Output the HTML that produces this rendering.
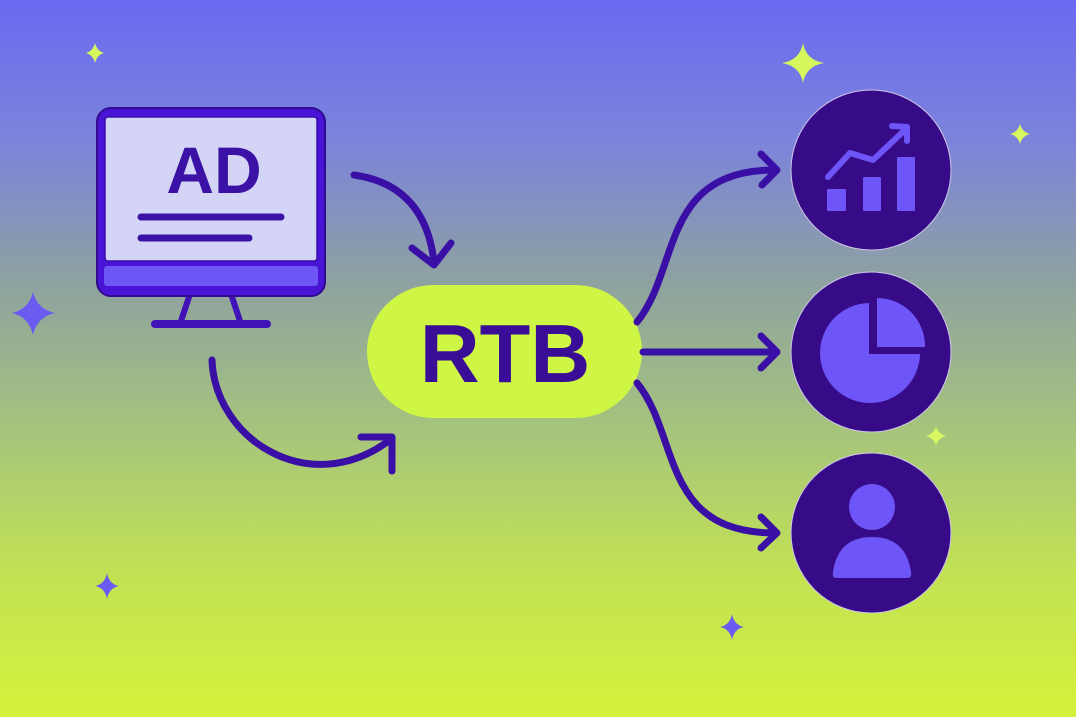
<!DOCTYPE html>
<html><head><meta charset="utf-8"><style>
html,body{margin:0;padding:0;width:1076px;height:717px;overflow:hidden}
svg{display:block}
</style></head><body>
<svg width="1076" height="717" viewBox="0 0 1076 717" xmlns="http://www.w3.org/2000/svg">
<defs>
<linearGradient id="bg" x1="0" y1="0" x2="0" y2="1">
<stop offset="0" stop-color="#6a69f1"/>
<stop offset="0.2" stop-color="#7c84da"/>
<stop offset="0.4" stop-color="#8ea39f"/>
<stop offset="0.6" stop-color="#a6c47c"/>
<stop offset="0.8" stop-color="#c2e254"/>
<stop offset="1" stop-color="#d4f23a"/>
</linearGradient>
</defs>
<rect width="1076" height="717" fill="url(#bg)"/>

<!-- sparkles -->
<g>
<path d="M95,43 Q97,51 104,53 Q97,55 95,63 Q93,55 86,53 Q93,51 95,43Z" fill="#d6f85e"/>
<path d="M803,43 Q806,60 824,63 Q806,66 803,83 Q800,66 782,63 Q800,60 803,43Z" fill="#d6f85e"/>
<path d="M1020,124 Q1022,132 1030,134 Q1022,136 1020,144 Q1018,136 1010,134 Q1018,132 1020,124Z" fill="#d8f860"/>
<path d="M936,426 Q938,434 946,436 Q938,438 936,446 Q934,438 926,436 Q934,434 936,426Z" fill="#d8f860"/>
<path d="M33,292 Q37,309 55,313 Q37,317 33,335 Q29,317 12,313 Q29,309 33,292Z" fill="#6a5cf0"/>
<path d="M107,573 Q109,584 119,586 Q109,588 107,599 Q105,588 95,586 Q105,584 107,573Z" fill="#6a5cf0"/>
<path d="M732,614 Q734,625 744,627 Q734,629 732,640 Q730,629 720,627 Q730,625 732,614Z" fill="#6a5cf0"/>
</g>

<!-- monitor -->
<g>
<line x1="190" y1="294" x2="181" y2="321" stroke="#4012b8" stroke-width="6" stroke-linecap="round"/>
<line x1="231" y1="294" x2="240" y2="321" stroke="#4012b8" stroke-width="6" stroke-linecap="round"/>
<line x1="155" y1="324" x2="267" y2="324" stroke="#4012b8" stroke-width="8" stroke-linecap="round"/>
<rect x="97" y="108" width="228" height="188" rx="14" fill="#4914d6" stroke="#300b90" stroke-width="2"/>
<rect x="105" y="117" width="212" height="144" rx="3" fill="#d4d4f6" stroke="#3a0fa8" stroke-width="1.5"/>
<rect x="104" y="266" width="214" height="20" rx="3" fill="#6c56f6"/>
<text x="214" y="193" text-anchor="middle" font-family="Liberation Sans, sans-serif" font-weight="bold" font-size="66" fill="#3b11a6">AD</text>
<line x1="141" y1="217" x2="281" y2="217" stroke="#3b11a6" stroke-width="7" stroke-linecap="round"/>
<line x1="141" y1="238" x2="249" y2="238" stroke="#3b11a6" stroke-width="7" stroke-linecap="round"/>
</g>

<!-- RTB pill -->
<rect x="367" y="285" width="275" height="133" rx="66.5" fill="#cff645"/>
<text x="505" y="382" text-anchor="middle" font-family="Liberation Sans, sans-serif" font-weight="bold" font-size="83" fill="#3a0d96">RTB</text>

<!-- arrows -->
<g fill="none" stroke="#3a0fa6" stroke-width="7" stroke-linecap="round" stroke-linejoin="round">
<path d="M354,175 Q425,185 434,262"/>
<path d="M412,248 L434,265 L451,243"/>
<path d="M212,360 C215,440 310,500 390,440"/>
<path d="M361,437 L392,437 L392,471"/>
<path d="M637,322 C680,270 660,170 775,170"/>
<path d="M761,154 L777,170 L762,185"/>
<path d="M643,352 L775,352"/>
<path d="M761,336 L777,352 L761,368"/>
<path d="M637,383 C680,435 660,533 775,533"/>
<path d="M761,517 L777,533 L761,548"/>
</g>

<!-- circles -->
<g stroke="#cfc8e8" stroke-width="1">
<circle cx="871" cy="170" r="80" fill="#370b88"/>
<circle cx="871" cy="352" r="80" fill="#370b88"/>
<circle cx="871" cy="533" r="80" fill="#370b88"/>
</g>

<!-- chart icon -->
<g fill="#6d55f8">
<rect x="827" y="189" width="19" height="22" rx="1"/>
<rect x="863" y="177" width="18" height="34" rx="1"/>
<rect x="897" y="157" width="18" height="54" rx="1"/>
</g>
<g fill="none" stroke="#6d55f8" stroke-width="6" stroke-linecap="round" stroke-linejoin="round">
<path d="M828,177 L850,153 L873,160 L906,129"/>
<path d="M892,126 L907,127 L907,141"/>
</g>

<!-- pie icon -->
<path d="M869,303 A50,50 0 1 0 920,354 L869,354 Z" fill="#6d55f8"/>
<path d="M877,298 A48,48 0 0 1 925,347 L877,347 Z" fill="#6d55f8"/>

<!-- person icon -->
<circle cx="872" cy="507" r="23" fill="#6d55f8"/>
<path d="M836,578 L908,578 Q912,578 911,572 Q906,537 872,537 Q838,537 833,572 Q832,578 836,578 Z" fill="#6d55f8"/>
</svg>
</body></html>
